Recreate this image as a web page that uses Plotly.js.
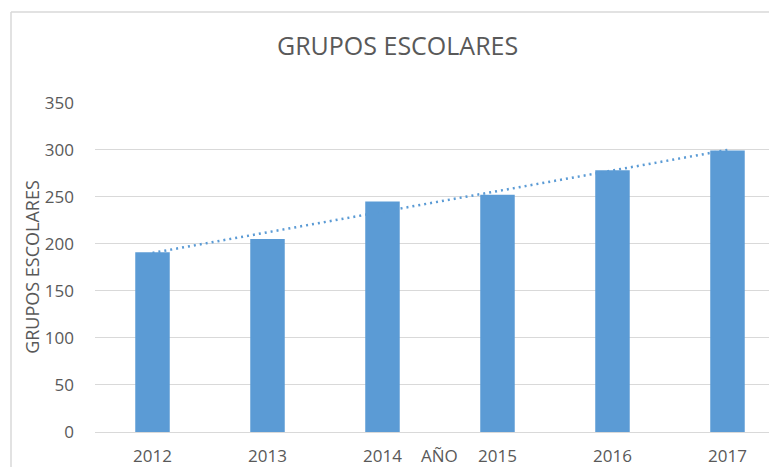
<!DOCTYPE html>
<html>
<head>
<meta charset="utf-8">
<script src="https://cdn.plot.ly/plotly-3.0.1.min.js"></script>
<style>html,body{margin:0;padding:0;background:#fff;}#chart{width:769px;height:467px;}</style>
</head>
<body>
<div id="chart"></div>
<script>
const years = ['2012', '2013', '2014', '2015', '2016', '2017'];
const grupos = [191, 205, 245, 252, 278, 299];
const yTicks = [0, 50, 100, 150, 200, 250, 300, 350];

// Linear trend line (least squares), as Excel's linear trendline
const n = grupos.length;
const idx = grupos.map((_, i) => i);
const mx = idx.reduce((a, b) => a + b, 0) / n;
const my = grupos.reduce((a, b) => a + b, 0) / n;
let sxy = 0, sxx = 0;
idx.forEach((x, i) => { sxy += (x - mx) * (grupos[i] - my); sxx += (x - mx) * (x - mx); });
const slope = sxy / sxx;
const icpt = my - slope * mx;
const trend = idx.map(x => icpt + slope * x);

const grey = '#595959';
const font = 'Open Sans, sans-serif';

const data = [
  {
    type: 'bar', x: years, y: grupos, name: 'GRUPOS ESCOLARES',
    marker: {color: '#5b9bd5'}, hoverinfo: 'x+y'
  },
  {
    type: 'scatter', mode: 'lines', x: years, y: trend, name: 'Lineal',
    line: {color: '#5b9bd5', width: 2.5, dash: '2px,4px'}, hoverinfo: 'skip'
  }
];

const layout = {
  width: 769, height: 467,
  margin: {l: 95, r: 0, t: 102, b: 35},
  paper_bgcolor: '#ffffff', plot_bgcolor: '#ffffff',
  showlegend: false,
  bargap: 0.7,
  font: {family: font, color: grey, size: 17},
  title: {
    text: 'GRUPOS ESCOLARES',
    font: {family: font, size: 25, color: grey},
    xref: 'container', x: 0.517, xanchor: 'center',
    yref: 'container', y: 1 - 46 / 467, yanchor: 'middle'
  },
  xaxis: {
    type: 'category', range: [-0.5, 5.361],
    showgrid: false, zeroline: false,
    showline: false, ticks: '',
    tickfont: {family: font, size: 17, color: grey},
    ticklabelstandoff: 12,
    fixedrange: true
  },
  yaxis: {
    range: [0, 350.6], tickvals: yTicks,
    showgrid: true, gridcolor: '#d9d9d9', gridwidth: 1,
    zeroline: true, zerolinecolor: '#d9d9d9', zerolinewidth: 1,
    showline: false, ticks: '',
    tickfont: {family: font, size: 17, color: grey},
    ticklabelstandoff: 20,
    title: {text: 'GRUPOS ESCOLARES', font: {family: font, size: 18, color: grey}, standoff: 0},
    fixedrange: true
  },
  annotations: [
    {
      text: 'AÑO', xref: 'x', x: 2.5, yref: 'paper', y: -23 / 330,
      xanchor: 'center', yanchor: 'middle', showarrow: false,
      font: {family: font, size: 17, color: grey}
    }
  ],
  shapes: [
    {type: 'line', xref: 'paper', yref: 'paper', x0: (11 - 95) / 674, x1: 1.05, y0: (432 - 12) / 330, y1: (432 - 12) / 330, line: {color: '#d9d9d9', width: 1.5}},
    {type: 'line', xref: 'paper', yref: 'paper', x0: (11 - 95) / 674, x1: (11 - 95) / 674, y0: (432 - 12) / 330, y1: -0.2, line: {color: '#d9d9d9', width: 1.5}}
  ]
};

Plotly.newPlot('chart', data, layout, {displayModeBar: false, staticPlot: true});
</script>
</body>
</html>
